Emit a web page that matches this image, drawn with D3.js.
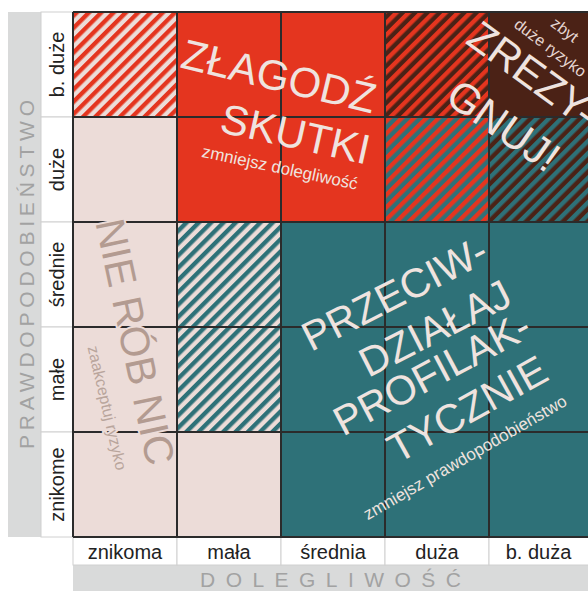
<!DOCTYPE html>
<html>
<head>
<meta charset="utf-8">
<script src="https://cdn.jsdelivr.net/npm/d3@7"></script>
<style>
  body { margin: 0; background: #fff; }
  text { font-family: "Liberation Sans", Arial, sans-serif; }
</style>
</head>
<body>
<svg id="chart" width="588" height="591"></svg>
<script>
// probability rows (top -> bottom) and severity columns (left -> right)
var rowLabels = ["b. duże", "duże", "średnie", "małe", "znikome"];
var colLabels = ["znikoma", "mała", "średnia", "duża", "b. duża"];
var yTitle = "PRAWDOPODOBIEŃSTWO";
var xTitle = "DOLEGLIWOŚĆ";

// fill code of every cell, one row per probability level
var cellCodes = [
  ["rp", "R",  "R",  "rb", "B"],
  ["P",  "R",  "R",  "rt", "tb"],
  ["P",  "tp", "T",  "T",  "T"],
  ["P",  "tp", "T",  "T",  "T"],
  ["P",  "P",  "T",  "T",  "T"]
];

// strategy labels, one entry per text line
var zoneLines = [
  "ZŁAGODŹ", "SKUTKI", "zmniejsz dolegliwość",
  "ZREZY-", "GNUJ!", "zbyt", "duże ryzyko",
  "NIE RÓB NIC", "zaakceptuj ryzyko",
  "PRZECIW-", "DZIAŁAJ", "PROFILAK-", "TYCZNIE", "zmniejsz prawdopodobieństwo"
];

var red = "#e4351f", pink = "#ecdcd8", teal = "#2e7178", brown = "#4b2216";
var light = "#efe3df", tan = "#b39b91";

var W = 588, H = 591;
var svg = d3.select("#chart");
var defs = svg.append("defs");

function stripes(id, c1, c2) {
  var s = 8.7;
  var p = defs.append("pattern")
    .attr("id", id)
    .attr("patternUnits", "userSpaceOnUse")
    .attr("width", s).attr("height", s)
    .attr("patternTransform", "rotate(45)");
  p.append("rect").attr("width", s).attr("height", s).attr("fill", c2);
  p.append("rect").attr("width", s / 2).attr("height", s).attr("fill", c1);
}
stripes("rp", red, pink);
stripes("rb", red, brown);
stripes("rt", red, teal);
stripes("tb", teal, brown);
stripes("tp", teal, pink);

var fills = {R: red, P: pink, T: teal, B: brown,
  rp: "url(#rp)", rb: "url(#rb)", rt: "url(#rt)", tb: "url(#tb)", tp: "url(#tp)"};

var x = d3.scaleBand().domain(colLabels).range([73, 593]);
var y = d3.scaleBand().domain(rowLabels).range([12, 537]);
// grid units, used for the rotated zone labels
var gx = d3.scaleLinear().domain([0, 5]).range([73, 593]);
var gy = d3.scaleLinear().domain([0, 5]).range([12, 537]);

// grey title bands
svg.append("rect").attr("x", 8).attr("y", 12).attr("width", 33).attr("height", 525).attr("fill", "#d9dada");
svg.append("rect").attr("x", 73).attr("y", 565).attr("width", W - 73).attr("height", H - 565).attr("fill", "#d9dada");

svg.append("text")
  .attr("transform", "translate(34," + (12 + 525 / 2) + ") rotate(-90)")
  .attr("text-anchor", "middle")
  .attr("textLength", 349).attr("lengthAdjust", "spacing")
  .style("font-size", "21px").style("fill", "#a2a2a2")
  .text(yTitle);

svg.append("text")
  .attr("x", (73 + W) / 2).attr("y", 587)
  .attr("text-anchor", "middle")
  .attr("textLength", 261).attr("lengthAdjust", "spacing")
  .style("font-size", "21px").style("fill", "#a2a2a2")
  .text(xTitle);

// row label cells
svg.append("g").selectAll("rect").data(rowLabels).enter().append("rect")
  .attr("x", 41).attr("y", function(d) { return y(d); })
  .attr("width", 32).attr("height", y.bandwidth())
  .attr("fill", "#fff").attr("stroke", "#d0d0d0").attr("stroke-width", 1);
svg.append("g").selectAll("text").data(rowLabels).enter().append("text")
  .attr("transform", function(d) { return "translate(64," + (y(d) + y.bandwidth() / 2) + ") rotate(-90)"; })
  .attr("text-anchor", "middle")
  .style("font-size", "20px").style("fill", "#222")
  .text(function(d) { return d; });

// column label cells
svg.append("g").selectAll("rect").data(colLabels).enter().append("rect")
  .attr("x", function(d) { return x(d); }).attr("y", 537)
  .attr("width", x.bandwidth()).attr("height", 28)
  .attr("fill", "#fff").attr("stroke", "#d0d0d0").attr("stroke-width", 1);
svg.append("g").selectAll("text").data(colLabels).enter().append("text")
  .attr("x", function(d) { return (x(d) + Math.min(x(d) + x.bandwidth(), W)) / 2; })
  .attr("y", 559)
  .attr("text-anchor", "middle")
  .style("font-size", "20px").style("fill", "#222")
  .text(function(d) { return d; });

// cells
var cells = [];
cellCodes.forEach(function(row, i) {
  row.forEach(function(c, j) { cells.push({r: rowLabels[i], c: colLabels[j], code: c}); });
});
svg.append("g").selectAll("rect").data(cells).enter().append("rect")
  .attr("x", function(d) { return x(d.c); })
  .attr("y", function(d) { return y(d.r); })
  .attr("width", x.bandwidth()).attr("height", y.bandwidth())
  .attr("fill", function(d) { return fills[d.code]; });

// grid lines
var grid = svg.append("g").attr("stroke", "#2b2b2b").attr("stroke-width", 2);
d3.range(6).forEach(function(k) {
  grid.append("line").attr("x1", gx(k)).attr("x2", gx(k)).attr("y1", gy(0)).attr("y2", gy(5));
  grid.append("line").attr("x1", gx(0)).attr("x2", gx(5)).attr("y1", gy(k)).attr("y2", gy(k));
});

// zone labels: [grid x, grid y, angle, size, colour, halo]
var layout = [
  [1.98, 0.61, 13.5, 42, light, false],
  [2.14, 1.16, 12.5, 42, light, false],
  [1.99, 1.48, 12, 17, light, false],
  [4.42, 0.59, 36, 42, light, false],
  [4.14, 1.08, 35, 42, light, false],
  [4.73, 0.17, 37, 16, "#e6d6d2", false],
  [4.59, 0.34, 37, 16, "#e6d6d2", false],
  [0.60, 3.14, 78, 41, tan, true],
  [0.33, 3.77, 77, 16, "#b9a59c", true],
  [3.09, 2.68, -27, 41, light, false],
  [3.48, 3.01, -27, 41, light, false],
  [3.45, 3.44, -28, 41, light, false],
  [3.79, 3.78, -29, 41, light, false],
  [3.77, 4.24, -30, 17, light, false]
];

svg.append("g").selectAll("text").data(zoneLines).enter().append("text")
  .attr("transform", function(d, i) {
    var l = layout[i];
    return "translate(" + gx(l[0]) + "," + gy(l[1]) + ") rotate(" + l[2] + ")";
  })
  .attr("text-anchor", "middle")
  .attr("dy", "0.35em")
  .style("font-size", function(d, i) { return layout[i][3] + "px"; })
  .style("fill", function(d, i) { return layout[i][4]; })
  .style("stroke", function(d, i) { return layout[i][5] ? pink : "none"; })
  .style("stroke-width", 4)
  .style("paint-order", "stroke")
  .text(function(d) { return d; });
</script>
</body>
</html>
